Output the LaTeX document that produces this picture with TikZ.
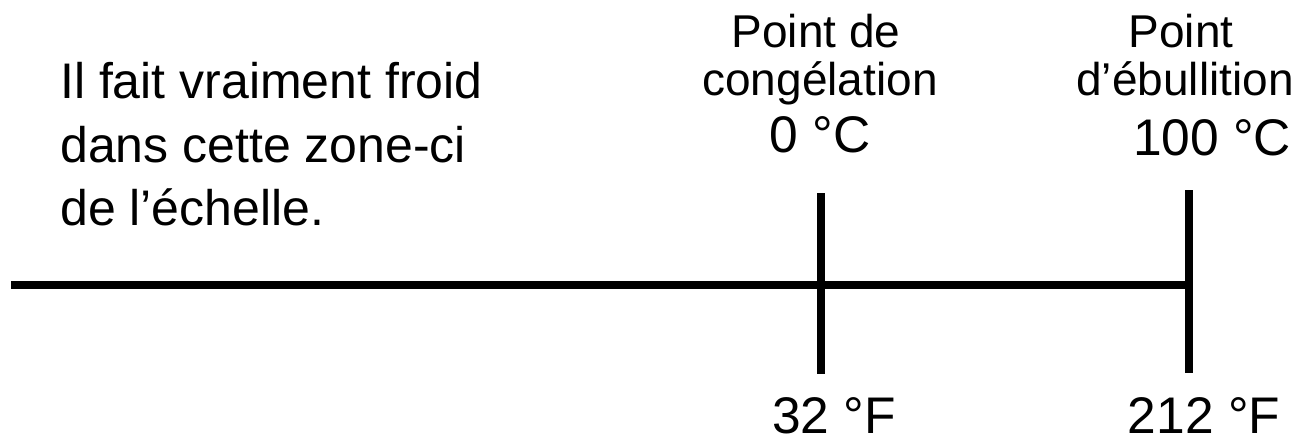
\documentclass[tikz,border=0pt]{standalone}
\usepackage{fontspec}
\setmainfont{Liberation Sans}
\begin{document}
\begin{tikzpicture}[x=1pt, y=-1pt,
  axis/.style={line width=7.5pt, draw=black},
  tick/.style={line width=8pt, draw=black},
  note/.style={anchor=base west, inner sep=0pt, font=\fontsize{50}{60}\selectfont},
  label/.style={anchor=base, inner sep=0pt, font=\fontsize{46}{55}\selectfont},
  temp/.style={anchor=base, inner sep=0pt, font=\fontsize{51.5}{60}\selectfont}]
  \useasboundingbox (0,0) rectangle (1307,437);

  % temperature scale
  \coordinate (start) at (11,285);
  \coordinate (freeze) at (821,285);
  \coordinate (boil) at (1189,285);
  \coordinate (freezetop) at (821,193);
  \coordinate (freezebot) at (821,374);
  \coordinate (boiltop) at (1189,190);
  \coordinate (boilbot) at (1189,373);
  \draw[axis] (start) -- (boil);
  \draw[tick] (freezetop) -- (freezebot);
  \draw[tick] (boiltop) -- (boilbot);

  % note on the cold end
  \node[note] (n1) at (60,98) {Il fait vraiment froid};
  \node[note] (n2) at (60,162) {dans cette zone-ci};
  \node[note] (n3) at (60,225) {de l’échelle.};

  % freezing point
  \node[label] (f1) at (816,47) {Point de};
  \node[label] (f2) at (820,95) {congélation};
  \node[temp] (fc) at (820,152) {0 °C};
  \node[temp] (ff) at (834,433) {32 °F};

  % boiling point
  \node[label] (b1) at (1181,47) {Point};
  \node[label] (b2) at (1185,95) {d’ébullition};
  \node[temp] (bc) at (1212,155) {100 °C};
  \node[temp] (bf) at (1204,433) {212 °F};
\end{tikzpicture}
\end{document}
